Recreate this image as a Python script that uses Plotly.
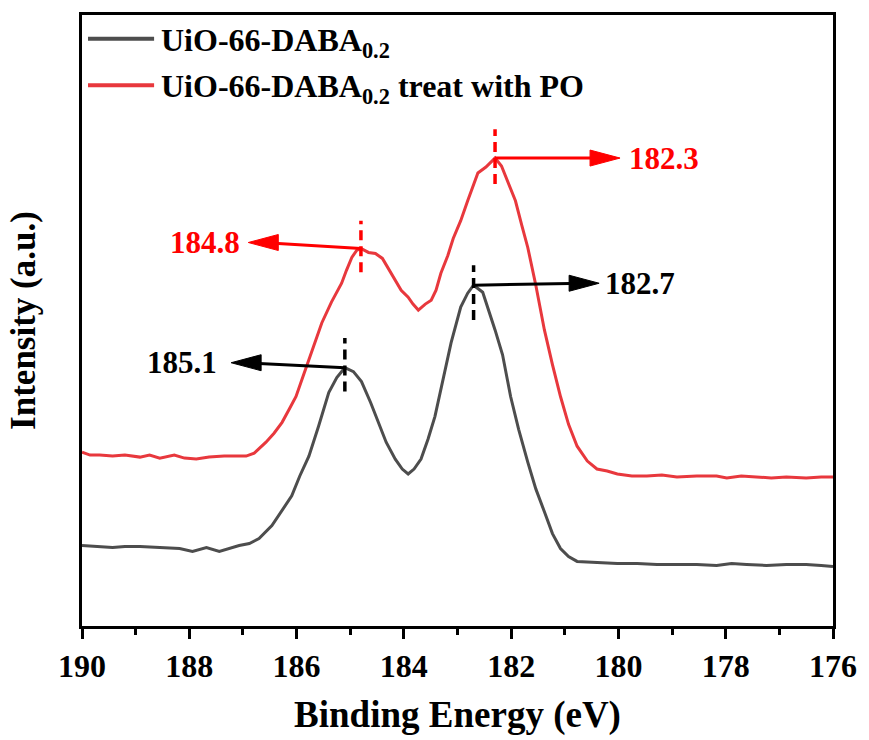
import plotly.graph_objects as go

# Zr 3d XPS spectra (binding energy in eV, intensity in arbitrary units)
be_pristine = [190.00, 189.67, 189.43, 189.20, 188.92, 188.55, 188.18, 187.94, 187.68, 187.44,
               187.07, 186.88, 186.70, 186.46, 186.27, 186.09, 185.94, 185.77, 185.59, 185.40,
               185.25, 185.10, 184.94, 184.79, 184.62, 184.47, 184.33, 184.16, 184.03, 183.92,
               183.81, 183.68, 183.55, 183.42, 183.27, 183.12, 182.94, 182.81, 182.70, 182.53,
               182.30, 182.16, 182.01, 181.86, 181.69, 181.54, 181.38, 181.23, 181.08, 180.93,
               180.77, 180.40, 180.02, 179.65, 179.28, 178.91, 178.54, 178.17, 177.89, 177.61,
               177.24, 176.87, 176.50, 176.22, 176.00]
int_pristine = [81, 80, 79, 80, 80, 79, 78, 75, 79, 75,
                81, 83, 88, 101, 116, 131, 151, 171, 201, 235,
                250, 260, 256, 246, 225, 205, 185, 168, 158, 153,
                158, 168, 188, 211, 248, 285, 321, 335, 343, 336,
                298, 273, 231, 198, 165, 138, 115, 93, 78, 70,
                65, 64, 63, 63, 62, 62, 62, 61, 63, 62,
                61, 62, 62, 61, 60]

be_po = [190.00, 189.85, 189.67, 189.43, 189.20, 188.92, 188.74, 188.55, 188.28, 188.09,
         187.87, 187.63, 187.35, 186.94, 186.79, 186.57, 186.42, 186.27, 186.14, 186.01,
         185.90, 185.72, 185.53, 185.35, 185.16, 185.07, 184.97, 184.88, 184.80, 184.66,
         184.53, 184.40, 184.29, 184.16, 184.05, 183.92, 183.83, 183.73, 183.60, 183.49,
         183.40, 183.31, 183.18, 183.08, 182.94, 182.81, 182.71, 182.62, 182.47, 182.30,
         182.18, 182.05, 181.92, 181.80, 181.69, 181.54, 181.38, 181.23, 181.08, 180.93,
         180.77, 180.58, 180.40, 180.21, 180.02, 179.75, 179.47, 179.19, 178.91, 178.54,
         178.17, 177.98, 177.71, 177.43, 177.15, 176.87, 176.50, 176.22, 176.00]
int_po = [175, 172, 172, 171, 172, 170, 172, 169, 172, 169,
          168, 170, 171, 171, 174, 185, 194, 205, 218, 231,
          248, 276, 305, 326, 345, 358, 371, 378, 380, 376,
          375, 370, 360, 348, 338, 331, 324, 318, 324, 328,
          338, 355, 373, 390, 408, 428, 443, 456, 462, 471,
          463, 445, 428, 403, 381, 343, 298, 263, 231, 203,
          181, 166, 158, 156, 153, 151, 151, 152, 150, 151,
          151, 149, 151, 150, 149, 150, 149, 150, 150]

series_names = ["UiO-66-DABA<sub>0.2</sub>", "UiO-66-DABA<sub>0.2</sub> treat with PO"]
series_colors = ["#4d4d4d", "#e8383d"]

# Peak markers: position, peak intensity, dashed-line span, arrow tip, label anchor
peak_pos = [185.1, 182.7, 184.8, 182.3]
peak_int = [260, 343, 380, 471]
dash_span = [(236, 290), (308, 363), (356, 408), (445, 500)]
arrow_tip = [(187.22, 265), (180.36, 345), (186.90, 386), (179.97, 471)]
label_at = [(187.44, 265, "right"), (180.28, 345, "left"), (187.01, 386, "right"), (179.84, 471, "left")]
peak_colors = ["black", "black", "#ff0000", "#ff0000"]

x_ticks = [190, 188, 186, 184, 182, 180, 178, 176]

FONT = "Liberation Serif, Times New Roman, serif"
HEAD_LEN, HEAD_HALF = 30, 8  # arrowhead size in screen pixels

fig = go.Figure()
fig.add_trace(go.Scatter(x=be_pristine, y=int_pristine, mode="lines",
                         line=dict(color=series_colors[0], width=3),
                         name=series_names[0], showlegend=False))
fig.add_trace(go.Scatter(x=be_po, y=int_po, mode="lines",
                         line=dict(color=series_colors[1], width=3),
                         name=series_names[1], showlegend=False))

annotations = []
shapes = []
for pos, pk, span, tip, lab, col in zip(peak_pos, peak_int, dash_span, arrow_tip, label_at, peak_colors):
    # dashed marker through the peak maximum
    shapes.append(dict(type="line", xref="x", yref="y", x0=pos, x1=pos, y0=span[0], y1=span[1],
                       line=dict(color=col, width=3.5, dash="10px,6px")))
    # arrow shaft from the peak towards the label
    toward_left = tip[0] > pos  # reversed energy axis: larger eV lies to the left
    back = 0.25 if toward_left else -0.25
    shapes.append(dict(type="line", xref="x", yref="y", x0=pos, y0=pk, x1=tip[0] - back, y1=tip[1],
                       line=dict(color=col, width=3)))
    # filled arrowhead at the label end
    d = 1 if toward_left else -1
    shapes.append(dict(type="path", xref="x", yref="y", xsizemode="pixel", ysizemode="pixel",
                       xanchor=tip[0], yanchor=tip[1],
                       path=f"M0,0 L{d * HEAD_LEN},{HEAD_HALF} L{d * HEAD_LEN},{-HEAD_HALF} Z",
                       fillcolor=col, line=dict(color=col, width=1)))
    annotations.append(dict(x=lab[0], y=lab[1], xref="x", yref="y", text=f"{pos:.1f}",
                            showarrow=False, xanchor=lab[2], yanchor="middle",
                            font=dict(family=FONT, size=31, color=col, weight="bold")))

# Legend drawn in the upper-left corner of the plot
legend_y = [0.961, 0.885]
for name, col, ly in zip(series_names, series_colors, legend_y):
    shapes.append(dict(type="line", xref="paper", yref="paper", x0=0.008, x1=0.096, y0=ly, y1=ly,
                       line=dict(color=col, width=4)))
    annotations.append(dict(x=0.103, y=ly - 0.006, xref="paper", yref="paper", text=name,
                            showarrow=False, xanchor="left", yanchor="middle",
                            font=dict(family=FONT, size=32, color="black", weight="bold")))

fig.update_layout(
    width=869, height=740,
    margin=dict(l=82, r=31, t=13, b=112),
    paper_bgcolor="white", plot_bgcolor="white",
    showlegend=False,
    shapes=shapes, annotations=annotations,
    xaxis=dict(range=[190, 176], tickvals=x_ticks, ticks="outside", ticklen=10, tickwidth=3,
               tickcolor="black", showline=True, linewidth=3, linecolor="black", mirror=True,
               showgrid=False, zeroline=False,
               minor=dict(ticks="outside", ticklen=6, tickwidth=3, tickcolor="black", dtick=1,
                          tick0=176, showgrid=False),
               tickfont=dict(family=FONT, size=32, color="black", weight="bold"),
               title=dict(text="Binding Energy (eV)", standoff=18,
                          font=dict(family=FONT, size=37, color="black", weight="bold"))),
    yaxis=dict(range=[0, 615], showticklabels=False, ticks="", showline=True, linewidth=3,
               linecolor="black", mirror=True, showgrid=False, zeroline=False,
               title=dict(text="Intensity (a.u.)", standoff=33,
                          font=dict(family=FONT, size=35, color="black", weight="bold"))),
)

fig.write_html("out.html")
